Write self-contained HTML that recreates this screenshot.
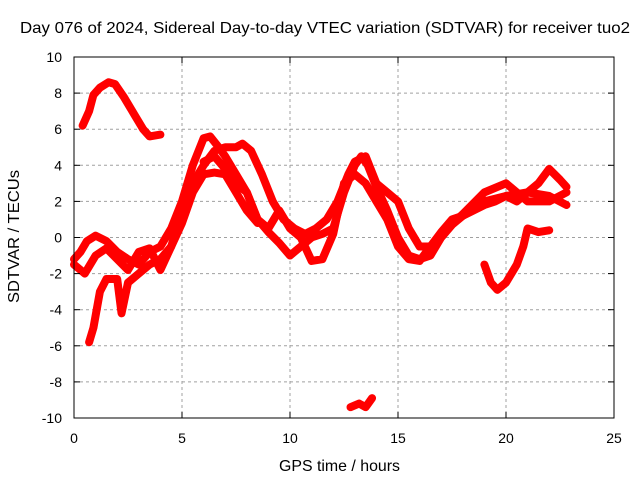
<!DOCTYPE html>
<html><head><meta charset="utf-8"><style>
body{margin:0;background:#fff}
svg text{font-family:"Liberation Sans",sans-serif;font-size:14px;fill:#000}
svg text.big{font-size:16px}
</style></head><body>
<svg id="chart" width="640" height="480" viewBox="0 0 640 480">
<rect x="0" y="0" width="640" height="480" fill="#fff"/>
<g id="grid"></g>
<g id="series"></g>
<rect x="74" y="57" width="540" height="361" fill="none" stroke="#000" stroke-width="1"/>
<g id="ticks"></g>
<text class="big" x="20" y="33" textLength="610" lengthAdjust="spacingAndGlyphs">Day 076 of 2024, Sidereal Day-to-day VTEC variation (SDTVAR) for receiver tuo2</text>
<text class="big" x="279" y="471" textLength="121" lengthAdjust="spacingAndGlyphs">GPS time / hours</text>
<text class="big" transform="translate(19,303) rotate(-90)" textLength="133" lengthAdjust="spacingAndGlyphs">SDTVAR / TECUs</text>
</svg>
<script>
const xTicks=[0,5,10,15,20,25];
const yTicks=[-10,-8,-6,-4,-2,0,2,4,6,8,10];
const trackA=[[0.4,6.2],[0.7,7],[0.9,7.9],[1.2,8.3],[1.6,8.6],[1.9,8.5],[2.3,7.8],[2.8,6.8],[3.2,6],[3.5,5.6],[4,5.7]];
const trackB=[[12.8,-9.4],[13.2,-9.2],[13.5,-9.4],[13.8,-8.9]];
const trackC=[[19,-1.5],[19.3,-2.5],[19.6,-2.9],[20,-2.5],[20.5,-1.5],[20.8,-0.5],[21,0.5],[21.5,0.3],[22,0.4]];
const trackD=[[0.7,-5.8],[0.9,-5],[1.2,-3],[1.5,-2.3],[2,-2.3],[2.2,-4.2],[2.5,-2.5],[3,-2],[3.5,-1.5],[4,-1.2],[4.5,-0.5],[5,0.8],[5.5,2.5],[6,3.5],[6.5,3.6],[7,3.5],[7.5,2.5],[8,1.5],[8.5,0.8]];
const trackM1=[[0,-1.2],[0.3,-0.8],[0.6,-0.2],[1,0.1],[1.5,-0.2],[2,-0.8],[2.5,-1.2],[3,-1.5],[3.5,-0.8],[4,-0.5],[4.5,0.5],[5,2],[5.5,4],[6,5.5],[6.3,5.6],[6.7,5],[7,4.5],[7.5,3.5],[8,2.5],[8.5,1],[9,0.3],[9.5,-0.3],[10,-1],[10.5,-0.5],[11,0],[11.5,0.2],[12,0.5],[12.5,2.5],[13,4],[13.3,4.5],[13.6,4],[14,2.8],[14.5,1.5],[15,0],[15.5,-1],[16,-1.2],[16.5,-1],[17,0],[17.5,0.7],[18,1.2],[18.5,1.5],[19,1.8],[19.5,2],[20,2.3],[20.5,2],[21,2.5],[21.5,3],[22,3.8],[22.5,3.2],[22.8,2.8]];
const trackM2=[[0,-1.5],[0.5,-2],[1,-1],[1.5,-0.6],[2,-1.2],[2.5,-1.8],[3,-0.8],[3.5,-0.6],[4,-1.8],[4.5,-0.5],[5,1.5],[5.5,3],[6,4],[6.5,4.8],[7,5],[7.5,5],[7.8,5.2],[8.2,4.8],[8.7,3.5],[9.2,2],[9.7,1],[10.2,0.5],[10.7,0.2],[11.2,0.5],[11.7,1],[12.2,2],[12.7,3.5],[13,4.2],[13.5,4.5],[14,3],[14.5,2.5],[15,2],[15.5,0.5],[16,-0.5],[16.5,-0.5],[17,0.3],[17.5,1],[18,1.2],[19,2],[20,2.3],[21,2.5],[22,2.3],[22.8,1.8]];
const trackM3=[[6,4.2],[6.5,4.5],[7,3.8],[7.5,3],[8,2.5],[8.5,1],[9,0.5],[9.5,1.5],[10,0.5],[10.5,0],[11,-1.3],[11.5,-1.2],[12,0.2],[12.5,3],[13,3.5],[13.5,3],[14,2],[14.5,1],[15,-0.5],[15.5,-1.2],[16,-1.3],[16.5,-0.5],[17,0.2],[18,1.3],[19,2.5],[20,3],[21,2],[22,2],[22.8,2.5]];
const tracks=[["track-a",trackA],["track-b",trackB],["track-c",trackC],["track-d",trackD],["track-m1",trackM1],["track-m2",trackM2],["track-m3",trackM3]];

const X0=74,X1=614,Y0=418,Y1=57;
const sx=v=>X0+(v-0)/(25-0)*(X1-X0);
const sy=v=>Y0-(v+10)/20*(Y0-Y1);
const NS="http://www.w3.org/2000/svg";
const grid=document.getElementById('grid'),ticks=document.getElementById('ticks'),ser=document.getElementById('series');
function mk(tag,attrs,parent){const e=document.createElementNS(NS,tag);for(const k in attrs)e.setAttribute(k,attrs[k]);parent.appendChild(e);return e;}
xTicks.forEach(t=>{
  const x=sx(t);
  if(t>0&&t<25){const g=mk('line',{x1:x,x2:x,y1:Y1,y2:Y0,stroke:'#a0a0a0','stroke-dasharray':'3,3'},grid);
  
  }
  mk('line',{x1:x,x2:x,y1:Y0,y2:Y0-6,stroke:'#000'},ticks);
  mk('line',{x1:x,x2:x,y1:Y1,y2:Y1+6,stroke:'#000'},ticks);
  const l=mk('text',{x:x,y:443,'text-anchor':'middle'},ticks);l.textContent=t;
  
  
});
yTicks.forEach(t=>{
  const y=sy(t);
  if(t>-10&&t<10){const g=mk('line',{x1:X0,x2:X1,y1:y,y2:y,stroke:'#a0a0a0','stroke-dasharray':'3,3'},grid);
  
  }
  mk('line',{x1:X0,x2:X0+6,y1:y,y2:y,stroke:'#000'},ticks);
  mk('line',{x1:X1,x2:X1-6,y1:y,y2:y,stroke:'#000'},ticks);
  const l=mk('text',{x:62,y:y+5,'text-anchor':'end'},ticks);l.textContent=t;
  
  
});
tracks.forEach(([name,pts])=>{
  const p=mk('polyline',{points:pts.map(d=>sx(d[0])+','+sy(d[1])).join(' '),fill:'none',stroke:'#ff0000','stroke-width':8,'stroke-linejoin':'round','stroke-linecap':'round'},ser);
  
  
});
</script>
</body></html>
